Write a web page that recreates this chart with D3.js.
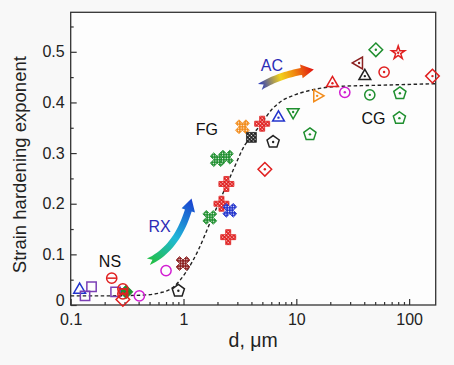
<!DOCTYPE html>
<html lang="en">
<head>
<meta charset="UTF-8">
<title>Strain hardening exponent vs grain size</title>
<script src="https://d3js.org/d3.v7.min.js"></script>
<style>
  body { margin: 0; background: #f8f8f8; }
  text { font-family: "Liberation Sans", Arial, sans-serif; }
</style>
</head>
<body>
<svg width="454" height="365"></svg>
<script>
// ---- data (grain size d in um, strain hardening exponent n) ----
var xTicks = [0.1, 1, 10, 100];
var xTickLabels = ["0.1", "1", "10", "100"];
var yTicks = [0, 0.1, 0.2, 0.3, 0.4, 0.5];
var yTickLabels = ["0", "0.1", "0.2", "0.3", "0.4", "0.5"];

var blueTriNS = [[0.12, 0.030]];
var purpleSquares = [[0.134, 0.018], [0.153, 0.036], [0.25, 0.026]];
var redThetas = [[0.231, 0.053], [0.29, 0.032], [0.29, 0.022]];
var redDiamondNS = [[0.29, 0.011]];
var greenSmall = [[0.31, 0.026]];
var magentaRings = [[0.406, 0.018], [0.70, 0.068]];
var blackPentagons = [[0.90, 0.028], [6.23, 0.322]];
var brownHatch = [[0.99, 0.082]];
var greenHatch = [[1.71, 0.173], [1.99, 0.287], [2.40, 0.292]];
var redHatch = [[2.17, 0.200], [2.40, 0.239], [2.49, 0.134], [4.98, 0.358]];
var blueHatch = [[2.57, 0.187]];
var orangeHatch = [[3.33, 0.352]];
var blackHatch = [[4.0, 0.331]];
var redDiamonds = [[5.26, 0.268], [161, 0.452]];
var blueTriDot = [[6.95, 0.370]];
var greenTriDown = [[9.37, 0.381]];
var greenPentagons = [[13.2, 0.337], [82.8, 0.418], [82, 0.369]];
var orangeTriRight = [[15.3, 0.413]];
var redTriDot = [[20.9, 0.438]];
var magentaDot = [[26.9, 0.420]];
var brownTriLeft = [[36, 0.478]];
var blackTriDot = [[40.5, 0.452]];
var greenCircles = [[44.8, 0.415]];
var greenDiamonds = [[50.7, 0.504]];
var redCircles = [[60, 0.460]];
var redStars = [[80, 0.498]];

// fitted trend
var fitCurve = [[0.1, 0.018], [0.2, 0.018], [0.3, 0.0185], [0.47, 0.020], [0.62, 0.024],
  [0.81, 0.035], [1.06, 0.066], [1.35, 0.108], [1.7, 0.16], [2.17, 0.214], [2.75, 0.266],
  [3.5, 0.316], [4.0, 0.333], [4.9, 0.358], [6.0, 0.385], [7.1, 0.400], [10, 0.416],
  [14, 0.425], [21, 0.431], [55, 0.434], [172, 0.437]];

var labels = [["NS", 0.223, 0.075, "#111"], ["RX", 0.614, 0.144, "#2b2bb5"],
  ["FG", 1.61, 0.335, "#111"], ["AC", 6.07, 0.462, "#2b2bb5"], ["CG", 48.3, 0.357, "#111"]];

var svg = d3.select("svg"),
    margin = {top: 12.3, right: 18.3, bottom: 60, left: 70.7},
    width = +svg.attr("width") - margin.left - margin.right,
    height = +svg.attr("height") - margin.top - margin.bottom;

var x = d3.scaleLog().domain([0.1, 172]).range([0, width]);
var y = d3.scaleLinear().domain([0, 0.578]).range([height, 0]);

var defs = svg.append("defs");
var g = svg.append("g").attr("transform", "translate(" + margin.left + "," + margin.top + ")");

g.append("rect").attr("width", width).attr("height", height).attr("fill", "#fdfdfd");

// axes, ticks pointing inward
var xMinor = [];
[0.1, 1, 10, 100].forEach(function(dec) {
  for (var k = 2; k <= 9; k++) if (dec * k <= 172) xMinor.push(dec * k);
});
var yMinor = [0.05, 0.15, 0.25, 0.35, 0.45, 0.55];

g.append("g").attr("class", "axis").attr("transform", "translate(0," + height + ")")
  .call(d3.axisBottom(x).tickValues(xMinor).tickSize(-3).tickSizeOuter(0).tickFormat(""));
g.append("g").attr("class", "axis").attr("transform", "translate(0," + height + ")")
  .call(d3.axisBottom(x).tickValues(xTicks).tickSize(-6).tickSizeOuter(0).tickPadding(9)
    .tickFormat(function(d, i) { return xTickLabels[i]; }));
g.append("g").attr("class", "axis")
  .call(d3.axisLeft(y).tickValues(yMinor).tickSize(-3).tickSizeOuter(0).tickFormat(""));
var yAx = g.append("g").attr("class", "axis")
  .call(d3.axisLeft(y).tickValues(yTicks).tickSize(-6).tickSizeOuter(0).tickPadding(6)
    .tickFormat(function(d, i) { return yTickLabels[i]; }));

g.selectAll(".axis path").remove();
g.selectAll(".axis line").attr("stroke", "#333").attr("stroke-width", 1.2);
g.selectAll(".axis text").attr("font-size", "16px").attr("fill", "#222")
  .style("font-family", "'Liberation Sans', Arial, sans-serif");
// lift the "0" so it clears the x labels
yAx.selectAll(".tick text").filter(function(d) { return d === 0; }).attr("dy", "0.05em");

g.append("rect").attr("width", width).attr("height", height)
  .attr("fill", "none").attr("stroke", "#333").attr("stroke-width", 1.3);

// axis titles
svg.append("text")
  .attr("transform", "translate(26," + (margin.top + height / 2 + 6) + ") rotate(-90)")
  .attr("text-anchor", "middle").attr("font-size", "18.5px").attr("fill", "#222")
  .text("Strain hardening exponent");
svg.append("text")
  .attr("x", margin.left + width / 2).attr("y", 347)
  .attr("text-anchor", "middle").attr("font-size", "19.5px").attr("fill", "#222")
  .text("d, \u03bcm");

// trend curve
g.append("path").datum(fitCurve)
  .attr("fill", "none").attr("stroke", "#222").attr("stroke-width", 1.4)
  .attr("stroke-dasharray", "3.5,2.5")
  .attr("d", d3.line().x(function(d) { return x(d[0]); }).y(function(d) { return y(d[1]); })
    .curve(d3.curveMonotoneX));

// marker shapes
function poly(n, r, rot) {
  var pts = d3.range(n).map(function(i) {
    var a = (rot + i * 360 / n) * Math.PI / 180;
    return [r * Math.cos(a), r * Math.sin(a)];
  });
  return "M" + pts.join("L") + "Z";
}
var shapes = {
  tri: poly(3, 6.8, -90), triDown: poly(3, 6.8, 90), triLeft: poly(3, 6.8, 180), triRight: poly(3, 6.8, 0),
  sq: poly(4, 6.6, 45), dia: poly(4, 6.8, -90), pent: poly(5, 6.4, -90),
  circ: d3.symbol(d3.symbolCircle, 82)(), star: d3.symbol(d3.symbolStar, 55)(),
  xh: d3.symbol(d3.symbolCross, 120)(), ph: d3.symbol(d3.symbolCross, 125)(), sqh: poly(4, 7, 45)
};

function hatch(id, color) {
  var p = defs.append("pattern").attr("id", id).attr("patternUnits", "userSpaceOnUse")
    .attr("width", 2.6).attr("height", 2.6).attr("patternTransform", "rotate(45)");
  p.append("rect").attr("width", 2.6).attr("height", 2.6).attr("fill", color);
  p.append("circle").attr("cx", 1.3).attr("cy", 1.3).attr("r", 0.7).attr("fill", "#fff");
  return "url(#" + id + ")";
}

function drawSet(pts, shape, color, deco, rot, fill) {
  var m = g.append("g").selectAll("g").data(pts).enter().append("g")
    .attr("transform", function(d) { return "translate(" + x(d[0]) + "," + y(d[1]) + ")"; });
  m.append("path").attr("d", shapes[shape])
    .attr("transform", rot ? "rotate(" + rot + ")" : null)
    .attr("fill", fill || "none").attr("stroke", color).attr("stroke-width", fill ? 0.8 : 1.5);
  if (deco === "dot") m.append("circle").attr("r", 1.2).attr("fill", color);
  if (deco === "bar") m.append("line").attr("x1", -4.5).attr("x2", 4.5).attr("stroke", color).attr("stroke-width", 1.5);
}

var blue = "#2233cc", purple = "#7b3fb5", red = "#e02020", magenta = "#d21ed2",
    black = "#222", brown = "#8b2020", green = "#1f8f2f", orange = "#f28c1c";

drawSet(greenSmall, "dia", green, "none", 0, green);
drawSet(blueTriNS, "tri", blue, "none");
drawSet(purpleSquares, "sq", purple, "none");
drawSet(redThetas, "circ", red, "bar");
drawSet(redDiamondNS, "dia", red, "none");
drawSet(magentaRings, "circ", magenta, "none");
drawSet(blackPentagons, "pent", black, "dot");
drawSet(brownHatch, "xh", brown, "none", 45, hatch("hb", brown));
drawSet(greenHatch, "xh", green, "none", 45, hatch("hg", green));
drawSet(redHatch, "ph", red, "none", 0, hatch("hr", red));
drawSet(blueHatch, "xh", blue, "none", 45, hatch("hbl", blue));
drawSet(orangeHatch, "xh", orange, "none", 45, hatch("ho", orange));
drawSet(blackHatch, "sqh", black, "none", 0, hatch("hk", black));
drawSet(redDiamonds, "dia", red, "dot");
drawSet(blueTriDot, "tri", blue, "dot");
drawSet(greenTriDown, "triDown", green, "dot");
drawSet(greenPentagons, "pent", green, "dot");
drawSet(orangeTriRight, "triRight", orange, "dot");
drawSet(redTriDot, "tri", red, "dot");
drawSet(magentaDot, "circ", magenta, "dot");
drawSet(brownTriLeft, "triLeft", brown, "dot");
drawSet(blackTriDot, "tri", black, "dot");
drawSet(greenCircles, "circ", green, "dot");
drawSet(greenDiamonds, "dia", green, "dot");
drawSet(redCircles, "circ", red, "dot");
drawSet(redStars, "star", red, "dot");

// curved gradient arrows (RX, AC)
function arrow(id, from, ctrl, to, stops, w) {
  var p0 = [x(from[0]), y(from[1])], c = [x(ctrl[0]), y(ctrl[1])], p1 = [x(to[0]), y(to[1])];
  function pt(t) { var u = 1 - t; return [u*u*p0[0] + 2*u*t*c[0] + t*t*p1[0], u*u*p0[1] + 2*u*t*c[1] + t*t*p1[1]]; }
  function tan(t) { var dx = 2*(1-t)*(c[0]-p0[0]) + 2*t*(p1[0]-c[0]), dy = 2*(1-t)*(c[1]-p0[1]) + 2*t*(p1[1]-c[1]);
    var l = Math.hypot(dx, dy); return [dx / l, dy / l]; }
  var headLen = 12, headW = 7, th = 1;
  while (th > 0 && Math.hypot(pt(th)[0] - p1[0], pt(th)[1] - p1[1]) < headLen) th -= 0.01;
  var left = [], right = [];
  for (var t = 0; t <= th + 1e-9; t += th / 20) {
    var p = pt(t), d = tan(t), n = [-d[1], d[0]], hw = w / 2;
    left.push([p[0] + n[0]*hw, p[1] + n[1]*hw]);
    right.push([p[0] - n[0]*hw, p[1] - n[1]*hw]);
  }
  var b = pt(th), db = tan(th), nb = [-db[1], db[0]], d0 = tan(0);
  var notch = [p0[0] + d0[0]*4.5, p0[1] + d0[1]*4.5];
  var path = left.concat([[b[0] + nb[0]*headW, b[1] + nb[1]*headW], p1, [b[0] - nb[0]*headW, b[1] - nb[1]*headW]])
    .concat(right.reverse()).concat([notch]);
  var grad = defs.append("linearGradient").attr("id", id).attr("gradientUnits", "userSpaceOnUse")
    .attr("x1", p0[0]).attr("y1", p0[1]).attr("x2", p1[0]).attr("y2", p1[1]);
  stops.forEach(function(s) { grad.append("stop").attr("offset", s[0]).attr("stop-color", s[1]); });
  g.append("path").attr("d", "M" + path.join("L") + "Z").attr("fill", "url(#" + id + ")");
}
arrow("gRX", [0.488, 0.0854], [0.941, 0.1148], [1.178, 0.2105],
  [[0, "#22c040"], [0.45, "#20b8d8"], [1, "#1a3fd0"]], 7);
arrow("gAC", [4.75, 0.4306], [7.41, 0.4576], [14.3, 0.4649],
  [[0, "#2a3ac0"], [0.4, "#f2d21a"], [0.65, "#f08a10"], [1, "#e01010"]], 7);

// region labels
g.selectAll(".lab").data(labels).enter().append("text")
  .attr("x", function(d) { return x(d[1]); }).attr("y", function(d) { return y(d[2]); })
  .attr("text-anchor", "middle").attr("font-size", "16px")
  .attr("fill", function(d) { return d[3]; })
  .text(function(d) { return d[0]; });
</script>
</body>
</html>
